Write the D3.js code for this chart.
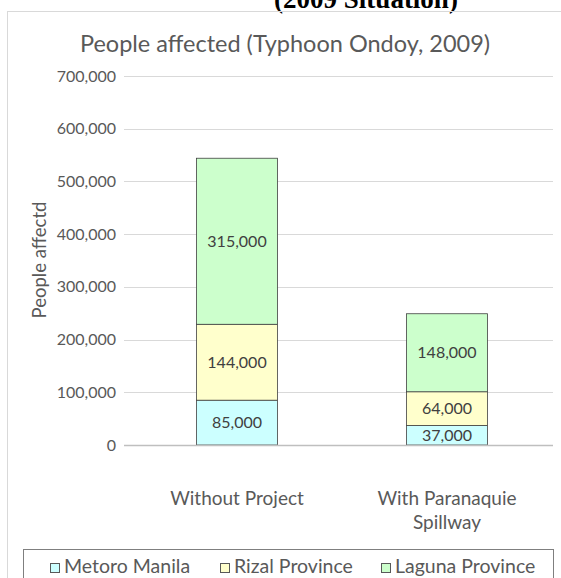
<!DOCTYPE html>
<html>
<head>
<meta charset="utf-8">
<script src="https://cdn.jsdelivr.net/npm/d3@7"></script>
<style>
  html, body { margin: 0; padding: 0; background: #fff; }
  svg { display: block; }
</style>
</head>
<body>
<svg id="chart" width="561" height="578"></svg>
<script>
// Data: people affected by Typhoon Ondoy (2009), by area
const categories = [["Without Project"], ["With Paranaquie", "Spillway"]];
const seriesNames = ["Metoro Manila", "Rizal Province", "Laguna Province"];
const metroManila = [85000, 37000];
const rizalProvince = [144000, 64000];
const lagunaProvince = [315000, 148000];
const yTicks = [0, 100000, 200000, 300000, 400000, 500000, 600000, 700000];
const seriesColors = ["#ccffff", "#ffffcc", "#ccffcc"];

const seriesValues = [metroManila, rizalProvince, lagunaProvince];
const rows = categories.map((c, i) => {
  const r = { key: c.join(" ") };
  seriesNames.forEach((s, j) => { r[s] = seriesValues[j][i]; });
  return r;
});

const svg = d3.select("#chart");
const font = "Lato, 'Open Sans', sans-serif";
const textColor = "#595959";

// Heading above the chart frame
svg.append("text")
  .attr("x", 366).attr("y", 8)
  .attr("text-anchor", "middle")
  .style("font-family", "'Liberation Serif', 'Times New Roman', serif")
  .style("font-weight", "bold")
  .style("font-size", "27px")
  .attr("fill", "#000")
  .text("(2009 Situation)");

// Chart frame
svg.append("rect")
  .attr("x", 7.5).attr("y", 11.5)
  .attr("width", 600).attr("height", 600)
  .attr("fill", "none")
  .attr("stroke", "#d9d9d9");

// Title
svg.append("text")
  .attr("x", 285).attr("y", 52)
  .attr("text-anchor", "middle")
  .style("font-family", font)
  .style("font-size", "23.5px")
  .attr("fill", textColor)
  .text("People affected (Typhoon Ondoy, 2009)");

const plot = { left: 124, right: 553, top: 76, bottom: 445 };

const x = d3.scaleBand()
  .domain(rows.map(r => r.key))
  .range([127.5, 556.5])
  .paddingInner(0.614)
  .paddingOuter(0.3285);

const y = d3.scaleLinear()
  .domain([0, 700000])
  .range([plot.bottom, plot.top]);

// Gridlines
svg.append("g")
  .selectAll("line")
  .data(yTicks.filter(t => t > 0))
  .join("line")
  .attr("x1", plot.left).attr("x2", plot.right)
  .attr("y1", d => Math.round(y(d)) + 0.5)
  .attr("y2", d => Math.round(y(d)) + 0.5)
  .attr("stroke", "#d9d9d9")
  .attr("stroke-width", 1);

// Y axis labels
const yAxis = d3.axisLeft(y)
  .tickValues(yTicks)
  .tickSize(0)
  .tickPadding(0)
  .tickFormat(d3.format(","));
const yg = svg.append("g")
  .attr("transform", `translate(116,0)`)
  .call(yAxis);
yg.select(".domain").remove();
yg.selectAll("text")
  .style("font-family", font)
  .style("font-size", "16px")
  .attr("fill", textColor);

// Y axis title
svg.append("text")
  .attr("transform", `translate(46,260) rotate(-90)`)
  .attr("text-anchor", "middle")
  .style("font-family", font)
  .style("font-size", "18.5px")
  .attr("fill", textColor)
  .text("People affectd");

// Stacked bars
const stack = d3.stack().keys(seriesNames)(rows);
const layers = svg.append("g")
  .selectAll("g")
  .data(stack)
  .join("g")
  .attr("fill", (d, i) => seriesColors[i]);

layers.selectAll("rect")
  .data(d => d)
  .join("rect")
  .attr("x", d => x(d.data.key))
  .attr("width", x.bandwidth())
  .attr("y", d => y(d[1]))
  .attr("height", d => y(d[0]) - y(d[1]))
  .attr("stroke", "#404040")
  .attr("stroke-width", 0.8);

// Value labels
layers.selectAll("text")
  .data(d => d)
  .join("text")
  .attr("x", d => x(d.data.key) + x.bandwidth() / 2)
  .attr("y", d => (y(d[0]) + y(d[1])) / 2)
  .attr("dy", "0.35em")
  .attr("text-anchor", "middle")
  .style("font-family", font)
  .style("font-size", "16px")
  .attr("fill", "#404040")
  .text(d => d3.format(",")(d[1] - d[0]));

// Baseline
svg.append("line")
  .attr("x1", plot.left).attr("x2", plot.right)
  .attr("y1", Math.round(y(0)) + 0.5).attr("y2", Math.round(y(0)) + 0.5)
  .attr("stroke", "#bfbfbf")
  .attr("stroke-width", 1.5);

// Category labels
const catG = svg.append("g");
rows.forEach((r, i) => {
  const t = catG.append("text")
    .attr("text-anchor", "middle")
    .style("font-family", font)
    .style("font-size", "19px")
    .attr("fill", textColor);
  categories[i].forEach((line, k) => {
    t.append("tspan")
      .attr("x", x(r.key) + x.bandwidth() / 2)
      .attr("y", 505 + k * 24)
      .text(line);
  });
});

// Legend
svg.append("rect")
  .attr("x", 23.5).attr("y", 549.5)
  .attr("width", 530).attr("height", 60)
  .attr("fill", "#fff")
  .attr("stroke", "#7f7f7f");

const legendX = [50, 220, 381];
const lg = svg.append("g")
  .selectAll("g")
  .data(seriesNames)
  .join("g")
  .attr("transform", (d, i) => `translate(${legendX[i]},0)`);
lg.append("rect")
  .attr("x", 0.5).attr("y", 563.5)
  .attr("width", 9).attr("height", 9)
  .attr("fill", (d, i) => seriesColors[i])
  .attr("stroke", "#595959");
lg.append("text")
  .attr("x", 14).attr("y", 573)
  .style("font-family", font)
  .style("font-size", "19.5px")
  .attr("fill", textColor)
  .text(d => d);
</script>
</body>
</html>
